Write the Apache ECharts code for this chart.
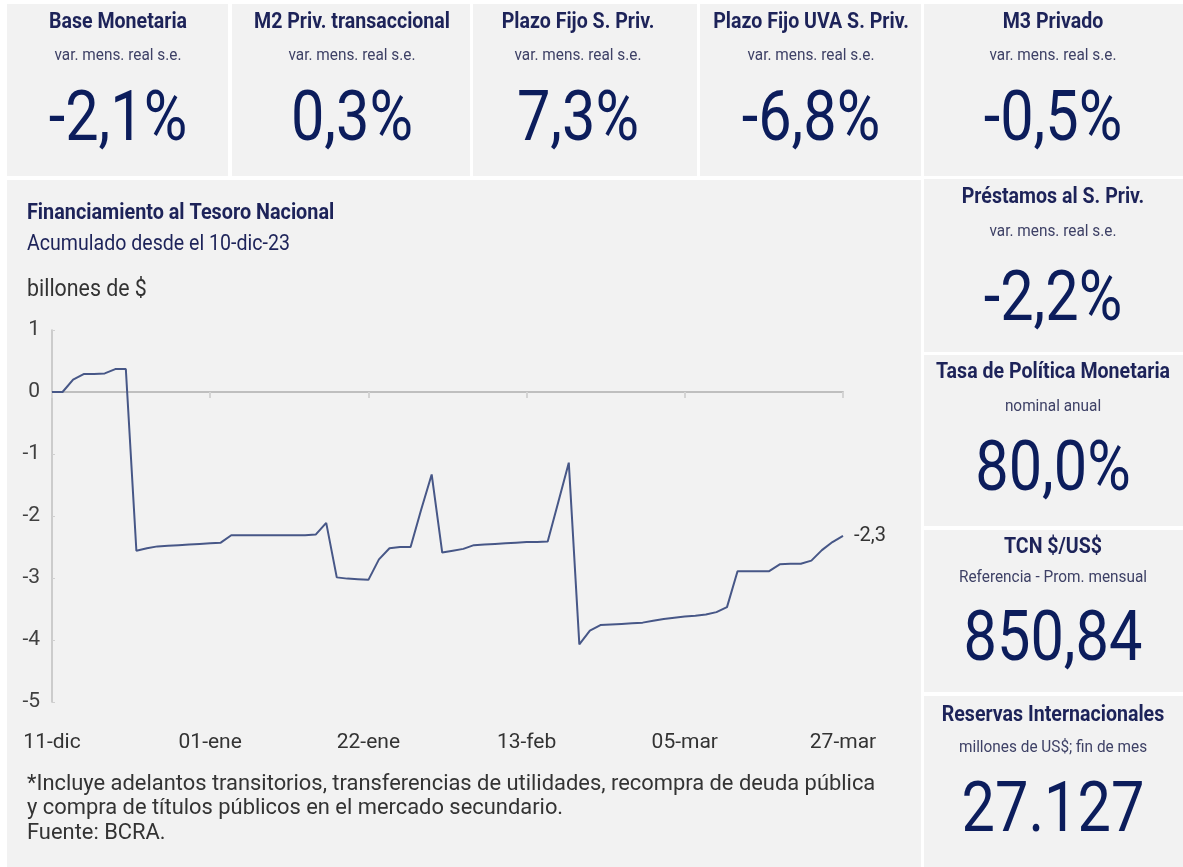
<!DOCTYPE html>
<html><head><meta charset="utf-8">
<script src="https://cdn.jsdelivr.net/npm/echarts@6/dist/echarts.min.js"></script>
<style>html,body{margin:0;padding:0;background:#fff}#c{width:1183px;height:867px}</style>
</head><body><div id="c"></div>
<script>
// ---- data ----
const dates = ['11-dic','12-dic','13-dic','14-dic','15-dic','18-dic','19-dic','20-dic','21-dic','22-dic','25-dic','26-dic','27-dic','28-dic','29-dic',
'01-ene','02-ene','03-ene','04-ene','05-ene','08-ene','09-ene','10-ene','11-ene','12-ene','15-ene','16-ene','17-ene','18-ene','19-ene',
'22-ene','23-ene','24-ene','25-ene','26-ene','29-ene','30-ene','31-ene','01-feb','02-feb','05-feb','06-feb','07-feb','08-feb','09-feb',
'13-feb','14-feb','15-feb','16-feb','19-feb','20-feb','21-feb','22-feb','23-feb','26-feb','27-feb','28-feb','29-feb','01-mar','04-mar',
'05-mar','06-mar','07-mar','08-mar','11-mar','12-mar','13-mar','14-mar','18-mar','19-mar','20-mar','21-mar','22-mar','25-mar','26-mar',
'27-mar'];
const financiamiento = [0,0,0.2,0.29,0.29,0.3,0.37,0.37,-2.56,-2.52,-2.49,-2.48,-2.47,-2.46,-2.45,
-2.44,-2.43,-2.31,-2.31,-2.31,-2.31,-2.31,-2.31,-2.31,-2.31,-2.3,-2.11,-2.99,-3.01,-3.02,
-3.03,-2.7,-2.52,-2.5,-2.5,-1.9,-1.33,-2.59,-2.56,-2.53,-2.47,-2.46,-2.45,-2.44,-2.43,
-2.42,-2.42,-2.41,-1.78,-1.14,-4.07,-3.85,-3.76,-3.75,-3.74,-3.73,-3.72,-3.69,-3.66,-3.64,
-3.62,-3.61,-3.59,-3.55,-3.47,-2.89,-2.89,-2.89,-2.89,-2.78,-2.77,-2.77,-2.72,-2.55,-2.42,
-2.32];
const yTicks = {min:-5, max:1, interval:1};
const kpiTop = [
  {title:'Base Monetaria', sub:'var. mens. real s.e.', value:'-2,1%'},
  {title:'M2 Priv. transaccional', sub:'var. mens. real s.e.', value:'0,3%'},
  {title:'Plazo Fijo S. Priv.', sub:'var. mens. real s.e.', value:'7,3%'},
  {title:'Plazo Fijo UVA S. Priv.', sub:'var. mens. real s.e.', value:'-6,8%'},
  {title:'M3 Privado', sub:'var. mens. real s.e.', value:'-0,5%'}
];
const kpiRight = [
  {title:'Préstamos al S. Priv.', sub:'var. mens. real s.e.', value:'-2,2%'},
  {title:'Tasa de Política Monetaria', sub:'nominal anual', value:'80,0%'},
  {title:'TCN $/US$', sub:'Referencia - Prom. mensual', value:'850,84'},
  {title:'Reservas Internacionales', sub:'millones de US$; fin de mes', value:'27.127'}
];
const chartTitle = 'Financiamiento al Tesoro Nacional';
const chartSub = 'Acumulado desde el 10-dic-23';
const unitLabel = 'billones de $';
const notes = ['*Incluye adelantos transitorios, transferencias de utilidades, recompra de deuda pública',
  'y compra de títulos públicos en el mercado secundario.', 'Fuente: BCRA.'];

// ---- layout ----
const PANEL = '#f2f2f2', NAVY = '#1d2359', VAL = '#0c1d5c', SUBC = '#3e4166';
const topBoxes = [[7,228,118],[232,470,352],[473,697,578],[700,921,811],[924,1183,1053]];
const rightBoxes = [[179,352],[355,526],[530,692],[696,867]];
const rightOff = [[18,53,123],[17,52,117],[17,48,112],[19,52,117]];
const g = [];
function txt(x,y,t,font,fill,align,sx){
  g.push({type:'text', x:x, y:y, scaleX:sx, z:5,
    style:{text:t, font:font, fill:fill, textAlign:align||'center', textVerticalAlign:'middle', align:align||'center', verticalAlign:'middle'}});
}
topBoxes.forEach((b,i)=>{
  g.push({type:'rect', shape:{x:b[0], y:4, width:b[1]-b[0], height:172}, style:{fill:PANEL}, z:-10});
  const k = kpiTop[i];
  txt(b[2], 22, k.title, 'bold 22px Roboto', NAVY, 'center', 0.89);
  txt(b[2], 56, k.sub, '16px Roboto', SUBC, 'center', 0.96);
  txt(b[2], 122, k.value, '70px Roboto', VAL, 'center', 0.85);
});
rightBoxes.forEach((b,i)=>{
  g.push({type:'rect', shape:{x:924, y:b[0], width:259, height:b[1]-b[0]}, style:{fill:PANEL}, z:-10});
  const k = kpiRight[i], o = rightOff[i];
  txt(1053, b[0]+o[0], k.title, 'bold 22px Roboto', NAVY, 'center', 0.89);
  txt(1053, b[0]+o[1], k.sub, '16px Roboto', SUBC, 'center', 0.96);
  txt(1053, b[0]+o[2], k.value, '70px Roboto', VAL, 'center', 0.85);
});
g.push({type:'rect', shape:{x:7, y:180, width:914, height:687}, style:{fill:PANEL}, z:-10});
txt(27, 213, chartTitle, 'bold 22px Roboto', NAVY, 'left', 0.9);
txt(27, 244, chartSub, '22px Roboto', NAVY, 'left', 0.89);
txt(27, 290, unitLabel, '24px Roboto', '#333', 'left', 0.89);
notes.forEach((n,i)=>txt(27, 784+i*24.5, n, '22px Roboto', '#333', 'left', 0.995));

const chart = echarts.init(document.getElementById('c'));
chart.setOption({
  backgroundColor:'#ffffff',
  animation:false,
  graphic:{elements:g},
  grid:{left:52, right:340, top:330, bottom:165},
  xAxis:[
    {type:'category', data:dates, boundaryGap:false, position:'bottom',
     axisLine:{show:false, onZero:false}, axisTick:{show:false},
     axisLabel:{interval:14, margin:30, fontSize:21, fontFamily:'Roboto', color:'#333'}},
    {type:'category', data:dates, boundaryGap:false, position:'top',
     axisLine:{show:true, onZero:true, lineStyle:{color:'#bfbfbf', width:2}},
     axisTick:{show:true, interval:14, inside:true, length:6, lineStyle:{color:'#d4d4d4', width:2}},
     axisLabel:{show:false}, splitLine:{show:false}}
  ],
  yAxis:{type:'value', min:yTicks.min, max:yTicks.max, interval:yTicks.interval,
    axisLine:{show:true, lineStyle:{color:'#bfbfbf', width:1.5}},
    axisTick:{show:true, inside:true, length:3, lineStyle:{color:'#d0d0d0'}},
    splitLine:{show:false},
    axisLabel:{fontSize:21, fontFamily:'Roboto', color:'#404040', margin:12}},
  series:[{type:'line', data:financiamiento, xAxisIndex:0, symbol:'none',
    lineStyle:{color:'#475787', width:2},
    endLabel:{show:true, distance:11, fontSize:20, fontFamily:'Roboto', color:'#333',
      formatter:p=>p.value.toFixed(1).replace('.',',')}}]
});
</script></body></html>
